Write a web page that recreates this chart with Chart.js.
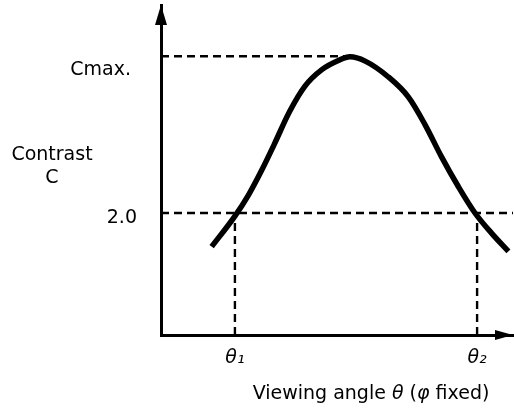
<!DOCTYPE html>
<html>
<head>
<meta charset="utf-8">
<script src="https://cdn.jsdelivr.net/npm/chart.js@4/dist/chart.umd.min.js"></script>
<style>
  body { margin: 0; background: #fff; }
  #wrap { width: 514px; height: 408px; }
</style>
</head>
<body>
<div id="wrap"><canvas id="c" width="514" height="408"></canvas></div>
<script>
// viewing angle (arbitrary units along the axis) and contrast
var angles   = [14.4, 21.0, 24.8, 28.6, 32.2, 36.5, 40.9, 45.7, 50.4, 53.7, 58.0, 64.6, 70.3, 75.0, 79.7, 84.5, 89.2, 93.9, 98.7];
var contrast = [1.45, 1.95, 2.29, 2.70, 3.13, 3.66, 4.08, 4.35, 4.50, 4.56, 4.49, 4.23, 3.90, 3.45, 2.92, 2.43, 2.00, 1.67, 1.37];

var cMax = 4.57, cMaxAngle = 55;
var cLimit = 2.0;
var theta1 = 21, theta2 = 89.8;
var yTickLabels = { 2: '2.0', 4.57: ['', 'Cmax. '] };
var xTickLabels = { 21: 'θ\u2081', 89.8: 'θ\u2082' };

var curve = angles.map(function (a, i) { return { x: a, y: contrast[i] }; });
var FONT = '"DejaVu Sans"';

function dashed(pts) {
  return {
    data: pts, borderColor: '#000', borderWidth: 2.4, borderDash: [8, 5],
    pointRadius: 0, tension: 0, fill: false
  };
}

var arrows = {
  id: 'arrows',
  afterDraw: function (chart) {
    var ctx = chart.ctx, a = chart.chartArea;
    ctx.save();
    ctx.fillStyle = '#000';
    // y arrow
    ctx.beginPath();
    ctx.moveTo(a.left, a.top);
    ctx.lineTo(a.left - 6, a.top + 20);
    ctx.lineTo(a.left + 6, a.top + 20);
    ctx.closePath();
    ctx.fill();
    // x arrow
    ctx.beginPath();
    ctx.moveTo(a.right, a.bottom);
    ctx.lineTo(a.right - 18, a.bottom - 5);
    ctx.lineTo(a.right - 18, a.bottom + 5);
    ctx.closePath();
    ctx.fill();

    // y title, horizontal
    ctx.font = '19px ' + FONT;
    ctx.textAlign = 'center';
    ctx.textBaseline = 'middle';
    ctx.fillText('Contrast', 52, 155);
    ctx.fillText('C', 52, 178);

    // x title with italic symbols
    var parts = [['Viewing angle ', ''], ['θ', 'italic '], [' (', ''], ['φ', 'italic '], [' fixed)', '']];
    var w = 0;
    parts.forEach(function (p) { ctx.font = p[1] + '19px ' + FONT; w += ctx.measureText(p[0]).width; });
    var x = 371 - w / 2;
    ctx.textAlign = 'left';
    parts.forEach(function (p) {
      ctx.font = p[1] + '19px ' + FONT;
      ctx.fillText(p[0], x, 394);
      x += ctx.measureText(p[0]).width;
    });
    ctx.restore();
  }
};

new Chart(document.getElementById('c'), {
  type: 'line',
  data: {
    datasets: [
      {
        data: curve, borderColor: '#000', borderWidth: 5.5,
        pointRadius: 0, cubicInterpolationMode: 'monotone', fill: false
      },
      dashed([{ x: 0, y: cMax }, { x: cMaxAngle, y: cMax }]),
      dashed([{ x: 0, y: cLimit }, { x: 100, y: cLimit }]),
      dashed([{ x: theta1, y: 0 }, { x: theta1, y: cLimit }]),
      dashed([{ x: theta2, y: 0 }, { x: theta2, y: cLimit }])
    ]
  },
  options: {
    responsive: false,
    animation: false,
    layout: { padding: { top: 5, right: 1, bottom: 0, left: 0 } },
    plugins: { legend: { display: false }, tooltip: { enabled: false } },
    scales: {
      x: {
        type: 'linear', min: 0, max: 100,
        grid: { display: false, drawTicks: false },
        border: { display: true, color: '#000', width: 3 },
        afterFit: function (s) { s.height = 73; s.paddingLeft = 0; s.paddingRight = 0; },
        afterBuildTicks: function (s) { s.ticks = [{ value: theta1 }, { value: theta2 }]; },
        ticks: {
          padding: 12, color: '#000', maxRotation: 0, autoSkip: false,
          font: { family: 'DejaVu Sans', size: 19, style: 'italic' },
          callback: function (v) { return xTickLabels[v]; }
        }
      },
      y: {
        type: 'linear', min: 0, max: 5.41,
        grid: { display: false, drawTicks: false },
        border: { display: true, color: '#000', width: 3 },
        afterFit: function (s) { s.width = 161; s.paddingTop = 0; s.paddingBottom = 0; },
        afterBuildTicks: function (s) { s.ticks = [{ value: cLimit }, { value: cMax }]; },
        ticks: {
          padding: 24, color: '#000', autoSkip: false, labelOffset: 5,
          font: { family: 'DejaVu Sans', size: 19, lineHeight: 0.9 },
          callback: function (v) { return yTickLabels[v]; }
        }
      }
    }
  },
  plugins: [arrows]
});
</script>
</body>
</html>
